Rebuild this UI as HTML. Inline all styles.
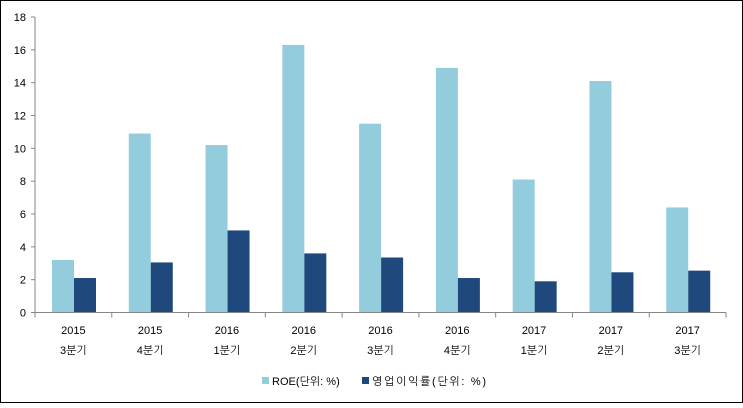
<!DOCTYPE html>
<html><head><meta charset="utf-8"><style>
body{margin:0;background:#fff}
svg text{font-family:"Liberation Sans","NanumGothic","Noto Sans CJK KR",sans-serif;font-size:11px;fill:#000}
</style></head><body>
<svg id="c" width="743" height="403">
<rect x="0.5" y="0.5" width="742" height="402" fill="#fff" stroke="#000"/>
<g id="g"></g>
</svg>
<script>
const years=["2015","2015","2016","2016","2016","2016","2017","2017","2017"];
const quarters=["3분기","4분기","1분기","2분기","3분기","4분기","1분기","2분기","3분기"];
const roe=[3.2,10.9,10.2,16.3,11.5,14.9,8.1,14.1,6.4];
const opMargin=[2.1,3.05,5.0,3.6,3.35,2.1,1.9,2.45,2.55];
const yTicks=[0,2,4,6,8,10,12,14,16,18];
const g=document.getElementById('g');
const NS='http://www.w3.org/2000/svg';
const x0=35,x1=726,yTop=17,yBot=312.5,yMax=18;
const cw=(x1-x0)/years.length;
const y=v=>yBot-(v/yMax)*(yBot-yTop);
const xc=i=>x0+cw*i;
function mk(t,a){const e=document.createElementNS(NS,t);for(const k in a)e.setAttribute(k,a[k]);g.appendChild(e);return e;}
yTicks.forEach(v=>{
 const l=mk('line',{x1:x0-4,x2:x0,y1:y(v),y2:y(v),stroke:'#868686'});
 
 
 const t=mk('text',{x:x0-9,y:y(v)+4,'text-anchor':'end'});t.textContent=v;
 
 
});
years.forEach((yr,i)=>{
 const b1=mk('rect',{x:xc(i)+17,y:y(roe[i]),width:22,height:yBot-y(roe[i]),fill:'#93CDDD'});
 
 
 const b2=mk('rect',{x:xc(i)+39,y:y(opMargin[i]),width:22,height:yBot-y(opMargin[i]),fill:'#1F497D'});
 
 
 const t1=mk('text',{x:xc(i)+cw/2,y:334,'text-anchor':'middle'});t1.textContent=yr;
 
 
 const t2=mk('text',{x:xc(i)+cw/2,y:354,'text-anchor':'middle'});t2.textContent=quarters[i];
 
 
});
for(let i=0;i<=years.length;i++){
 const l=mk('line',{x1:xc(i),x2:xc(i),y1:yBot,y2:yBot+5,stroke:'#868686'});
 
 
}
const ax=mk('line',{x1:x0,x2:x0,y1:yTop,y2:yBot,stroke:'#868686'});


const bx=mk('line',{x1:x0,x2:x1,y1:yBot,y2:yBot,stroke:'#868686'});


const lg=[["ROE(단위: %)","#93CDDD",262,null],["영업이익률(단위: %)","#1F497D",362,114]];
lg.forEach(e=>{
 const r=mk('rect',{x:e[2],y:377,width:7,height:7,fill:e[1]});
 
 
 const t=mk('text',{x:e[2]+10,y:385});t.textContent=e[0];
 if(e[3])t.setAttribute('textLength',e[3]);
 
 
});
</script>
</body></html>
